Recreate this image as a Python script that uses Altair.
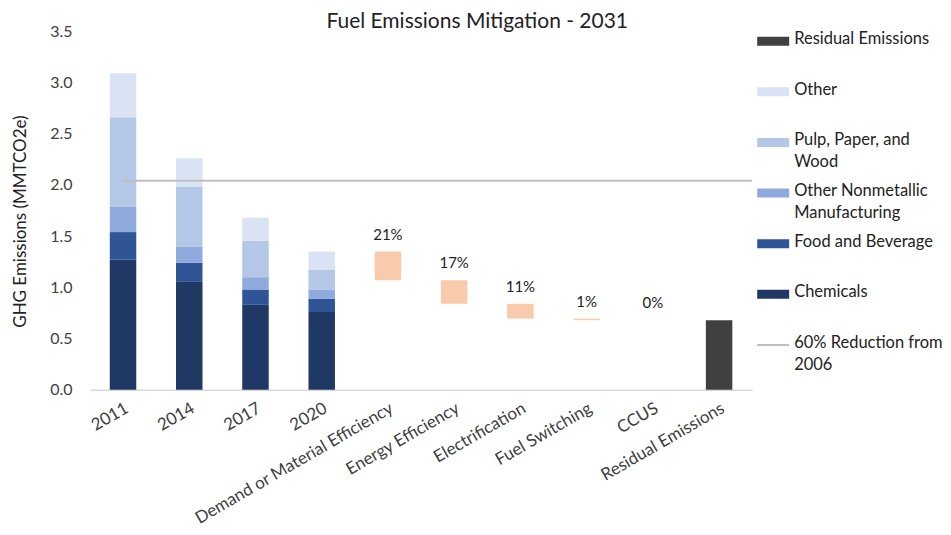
import altair as alt
import pandas as pd

# ---- data ----
years = ["2011", "2014", "2017", "2020"]
sectors = ["Chemicals", "Food and Beverage", "Other Nonmetallic Manufacturing",
           "Pulp, Paper, and Wood", "Other"]
chemicals = [1.27, 1.06, 0.83, 0.76]
food_bev = [0.27, 0.18, 0.15, 0.13]
other_nonmetallic = [0.25, 0.16, 0.12, 0.09]
pulp_paper = [0.87, 0.58, 0.355, 0.19]
other = [0.43, 0.28, 0.225, 0.18]

levers = ["Demand or Material Efficiency", "Energy Efficiency", "Electrification",
          "Fuel Switching", "CCUS"]
reductions = [0.28, 0.23, 0.145, 0.015, 0.0]
reduction_labels = ["21%", "17%", "11%", "1%", "0%"]
residual_label = "Residual Emissions"
target_value = 2.04
target_label = "60% Reduction from 2006"

categories = years + levers + [residual_label]

# ---- build tables ----
rows = []
series = [chemicals, food_bev, other_nonmetallic, pulp_paper, other]
for i, y in enumerate(years):
    base = 0.0
    for s, vals in zip(sectors, series):
        rows.append({"cat": y, "key": s, "lo": base, "hi": base + vals[i]})
        base += vals[i]
start = sum(v[-1] for v in series)
lever_rows = []
level = start
for lv, r, lab in zip(levers, reductions, reduction_labels):
    rows.append({"cat": lv, "key": "Mitigation", "lo": level - r, "hi": level})
    lever_rows.append({"cat": lv, "top": level, "label": lab})
    level -= r
rows.append({"cat": residual_label, "key": "Residual Emissions", "lo": 0.0, "hi": level})
bars_df = pd.DataFrame(rows)
labels_df = pd.DataFrame(lever_rows)
target_df = pd.DataFrame({"cat": [years[0]], "v": [target_value]})

legend_keys = ["Residual Emissions", "Other", "Pulp, Paper, and Wood",
               "Other Nonmetallic Manufacturing", "Food and Beverage", "Chemicals",
               target_label]
legend_text = ["Residual Emissions", "Other", "Pulp, Paper, and\nWood",
               "Other Nonmetallic\nManufacturing", "Food and Beverage", "Chemicals",
               "60% Reduction from\n2006"]
legend_df = pd.DataFrame({
    "key": legend_keys,
    "text": legend_text,
    "idx": list(range(len(legend_keys))),
    "sw": [9, 9, 9, 9, 9, 9, 2],
})

# ---- styles ----
FONT = "Lato"
color_domain = ["Chemicals", "Food and Beverage", "Other Nonmetallic Manufacturing",
                "Pulp, Paper, and Wood", "Other", "Mitigation", "Residual Emissions",
                target_label]
color_range = ["#1F3864", "#2F5597", "#8FAADC", "#B4C7E7", "#DAE3F3", "#F8CBAD",
               "#404040", "#BFBFBF"]
color_scale = alt.Scale(domain=color_domain, range=color_range)

W, H = 663, 359

xenc = alt.X("cat:N", sort=categories, title=None,
             scale=alt.Scale(domain=categories, paddingInner=0.6, paddingOuter=0.3),
             axis=alt.Axis(labelAngle=-30, labelAlign="right", labelBaseline="top",
                           labelFontSize=17, labelColor="#404040", labelFont=FONT,
                           ticks=False, domain=True, domainColor="#D9D9D9",
                           domainWidth=1.5, labelPadding=10, labelLimit=300))
yscale = alt.Scale(domain=[0, 3.5], nice=False)
yaxis = alt.Axis(values=[0, 0.5, 1, 1.5, 2, 2.5, 3, 3.5], format=".1f", grid=False,
                 domain=False, ticks=False, labelFontSize=16, labelColor="#404040",
                 labelFont=FONT, labelPadding=18, title="GHG Emissions (MMTCO2e)",
                 titleFontSize=17, titleFontWeight="normal", titleColor="#222222",
                 titleFont=FONT, titlePadding=20, titleY=190)

bars = alt.Chart(bars_df).mark_bar().encode(
    x=xenc,
    y=alt.Y("lo:Q", scale=yscale, axis=yaxis),
    y2="hi:Q",
    color=alt.Color("key:N", scale=color_scale, legend=None),
)

pct = alt.Chart(labels_df).mark_text(baseline="bottom", dy=-9, fontSize=15,
                                     font=FONT, color="#222222").encode(
    x=alt.X("cat:N", sort=categories),
    y=alt.Y("top:Q"),
    text="label:N",
)

target = alt.Chart(target_df).mark_rule(strokeWidth=2).encode(
    x=alt.X("cat:N", sort=categories),
    x2=alt.value(W),
    y="v:Q",
    color=alt.value("#BFBFBF"),
)

main = alt.layer(bars, target, pct)

lscale = alt.Scale(domain=[-0.197, 6.888], reverse=True, nice=False, zero=False)
leg_sym = alt.Chart(legend_df).mark_rule().encode(
    x=alt.value(668), x2=alt.value(700),
    y=alt.Y("idx:Q", scale=lscale, axis=None),
    strokeWidth=alt.StrokeWidth("sw:Q", scale=None, legend=None),
    color=alt.Color("key:N", scale=color_scale, legend=None),
)
leg_txt = alt.Chart(legend_df).mark_text(align="left", baseline="top", dy=-10,
                                         fontSize=16.5, font=FONT, color="#222222",
                                         lineBreak="\n", lineHeight=22).encode(
    x=alt.value(705),
    y=alt.Y("idx:Q", scale=lscale, axis=None),
    text="text:N",
)
legend = alt.layer(leg_sym, leg_txt)

chart = alt.layer(main, legend).resolve_scale(y="independent").properties(
    width=W, height=H,
    background="white",
    padding={"left": 3, "top": 3, "right": 0, "bottom": 0},
    title=alt.TitleParams("Fuel Emissions Mitigation - 2031", fontSize=21,
                          fontWeight="normal", font=FONT, color="#222222",
                          anchor="middle", frame="bounds", offset=-9),
).configure_view(strokeWidth=0, stroke="transparent").configure_axisY(domain=False)

chart.save("out.html", embed_options={"renderer": "svg", "actions": False})
